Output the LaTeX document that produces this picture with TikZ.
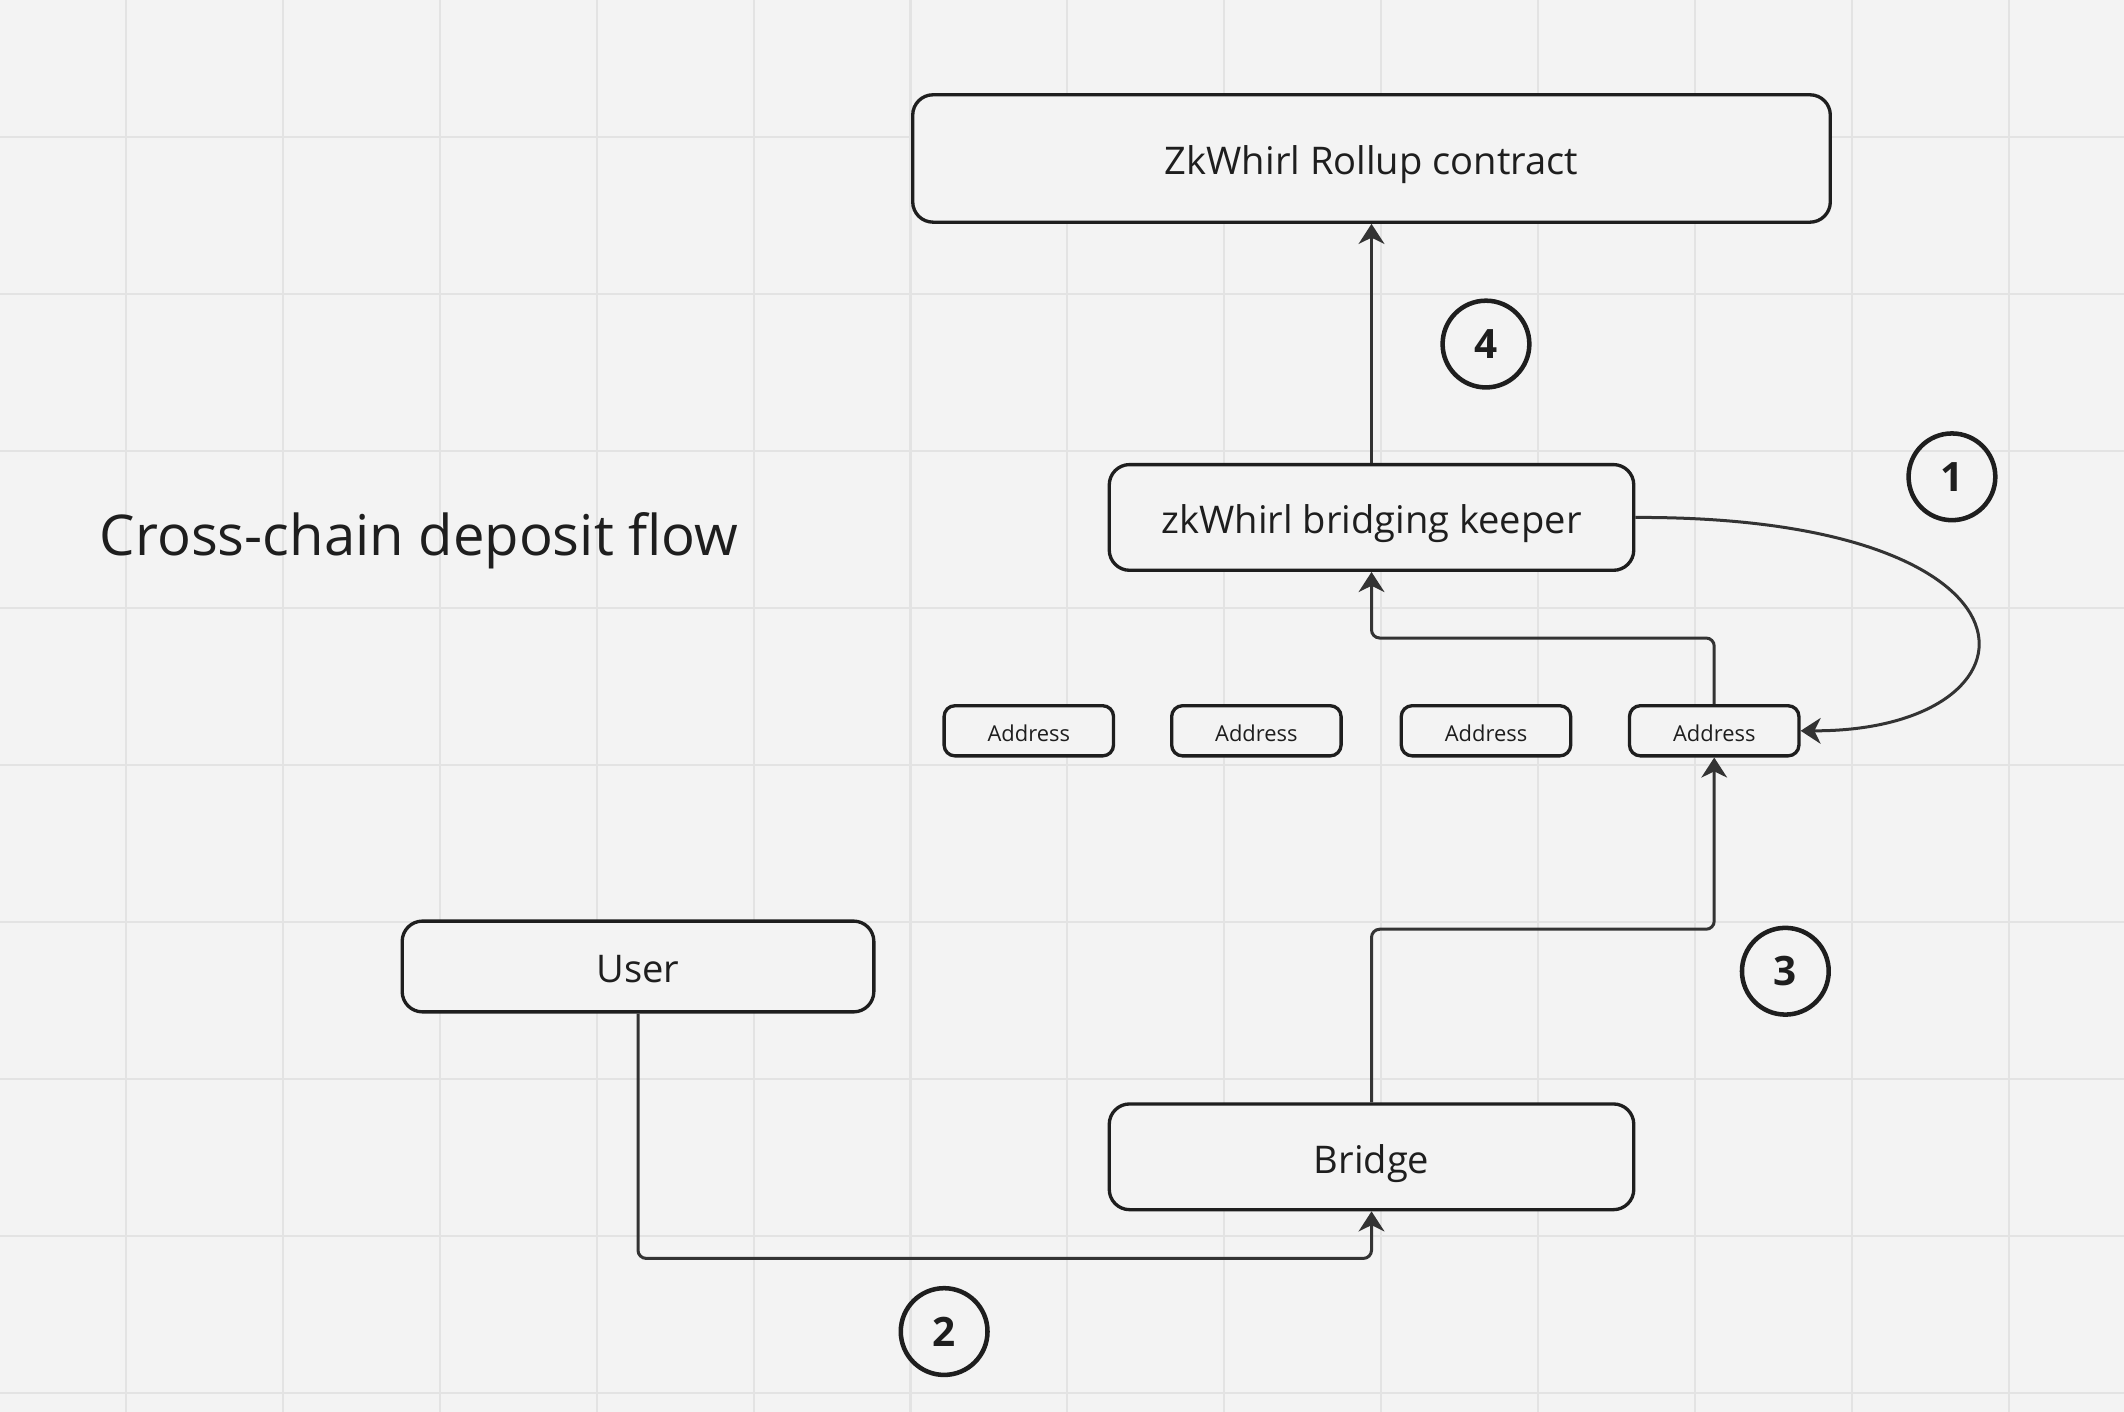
\documentclass[tikz,border=0pt]{standalone}
\usepackage{fontspec}
\setmainfont{Open Sans}
\usetikzlibrary{arrows.meta}
\definecolor{bgc}{HTML}{F3F3F3}
\definecolor{gridc}{HTML}{E3E3E3}
\definecolor{inkc}{HTML}{1E1E1E}
\definecolor{linec}{HTML}{333333}
\tikzset{
  gridline/.style={draw=gridc, line width=0.45pt},
  bigbox/.style={draw=inkc, line width=0.7pt, rounded corners=0.15cm, fill=bgc, inner sep=0pt,
    text=inkc, font=\fontsize{8}{10}\selectfont, text height=0.8em, text depth=0.12em},
  addrbox/.style={draw=inkc, line width=0.7pt, rounded corners=0.08cm, fill=bgc, inner sep=0pt,
    minimum width=1.25cm, minimum height=0.37cm,
    text=inkc, font=\fontsize{4.6}{5.5}\selectfont, text height=0.68em, text depth=0.24em},
  numcirc/.style={draw=inkc, line width=0.95pt, circle, minimum size=0.64cm, inner sep=0pt,
    text=inkc, font=\fontsize{8.5}{10}\selectfont\bfseries},
  conn/.style={draw=linec, line width=0.63pt, rounded corners=0.06cm,
    -{Stealth[length=4.2pt,width=5.4pt,inset=1.3pt]}},
}
\begin{document}
\begin{tikzpicture}[x=0.01cm,y=-0.01cm]
\fill[bgc] (0,0) rectangle (1568,1042.4);
\useasboundingbox (0,0) rectangle (1568,1042.4);
\foreach \i in {0,...,12} \draw[gridline] ({93+115.83*\i},0) -- ({93+115.83*\i},1042.4);
\foreach \j in {0,...,8} \draw[gridline] (0,{101+115.9*\j}) -- (1568,{101+115.9*\j});

% title
\node[anchor=base west, inner sep=0pt, text=inkc, font=\fontsize{11.8}{14}\selectfont] (title) at (73,410) {Cross-chain deposit flow};

% boxes
\node[bigbox, minimum width=6.77cm, minimum height=0.94cm] (rollup) at (1012.5,117) {ZkWhirl Rollup contract};
\node[bigbox, minimum width=3.87cm, minimum height=0.78cm] (keeper) at (1012.5,382) {zkWhirl bridging keeper};
\node[addrbox] (a1) at (759.5,539.5) {Address};
\node[addrbox] (a2) at (927.5,539.5) {Address};
\node[addrbox] (a3) at (1097,539.5) {Address};
\node[addrbox] (a4) at (1265.5,539.5) {Address};
\node[bigbox, minimum width=3.48cm, minimum height=0.67cm] (user) at (471,713.5) {User};
\node[bigbox, minimum width=3.87cm, minimum height=0.78cm] (bridge) at (1012.5,854) {Bridge};

% step circles
\node[numcirc] (n4) at (1097,254) {4};
\node[numcirc] (n1) at (1441,352) {1};
\node[numcirc] (n3) at (1318,717) {3};
\node[numcirc] (n2) at (697,983) {2};

% bend points
\coordinate (b1) at (1265.5,471);
\coordinate (b2) at (1012.5,471);
\coordinate (c1) at (1012.5,686);
\coordinate (c2) at (1265.5,686);
\coordinate (u1) at (471,929);
\coordinate (u2) at (1012.5,929);

% connectors
\draw[conn] (keeper.north) -- (rollup.south);
\draw[conn] (keeper.east) .. controls (1525,381) and (1515,540) .. (a4.east);
\draw[conn] (a4.north) -- (b1) -- (b2) -- (keeper.south);
\draw[conn] (bridge.north) -- (c1) -- (c2) -- (a4.south);
\draw[conn] (user.south) -- (u1) -- (u2) -- (bridge.south);
\end{tikzpicture}
\end{document}
